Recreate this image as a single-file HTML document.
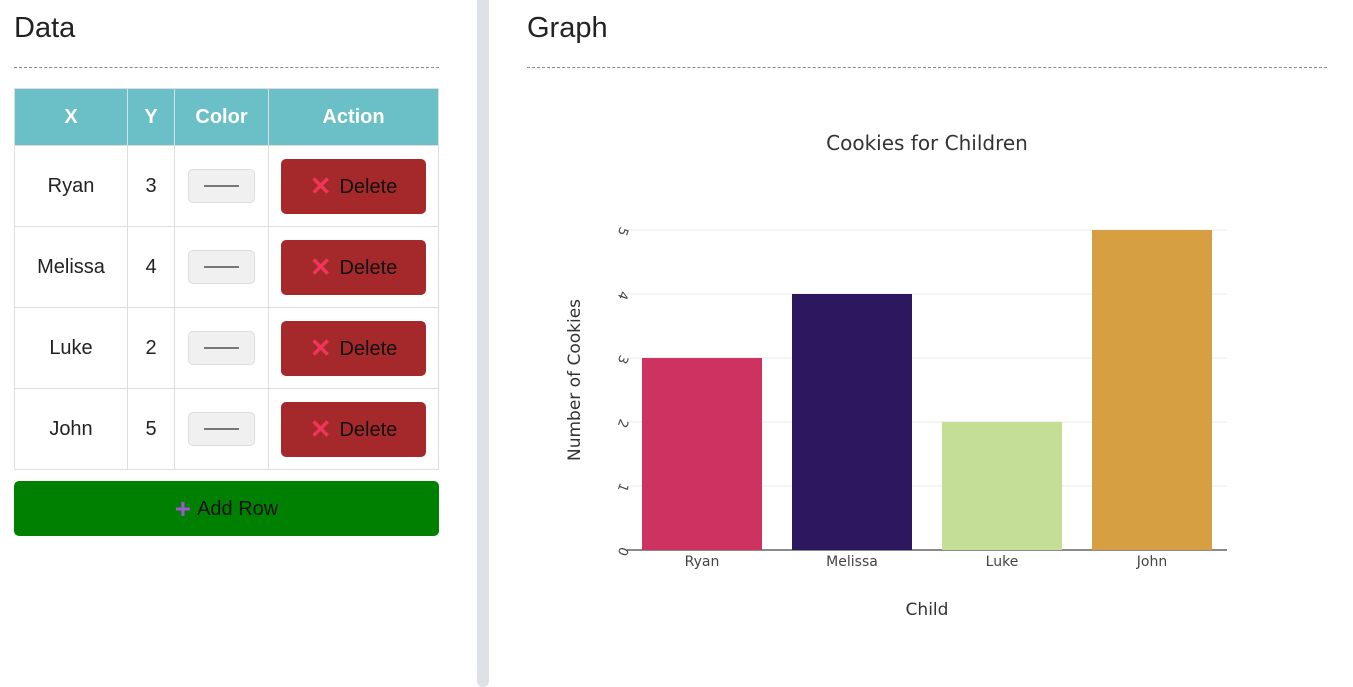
<!DOCTYPE html>
<html><head><meta charset="utf-8"><style>
body{margin:0;width:1353px;height:687px;background:#fff;font-family:"Liberation Sans",Arial,sans-serif;position:relative;overflow:hidden;color:#222}
.abs{position:absolute}
h2{position:absolute;margin:0;font-weight:400;font-size:29px;color:#222}
.hr{position:absolute;border-top:1px dashed #888;height:0}
table{position:absolute;left:14px;top:88px;border-collapse:collapse;width:425px}
th{background:#6bbfc7;color:#fff;font-size:20px;height:56px;border:1px solid #ddd;padding:0}
td{border:1px solid #ddd;height:80px;text-align:center;font-size:20px;padding:0}
.sw{display:inline-block;width:65px;height:32px;background:#f0f0f0;border:1px solid #ddd;border-radius:5px;position:relative;vertical-align:middle}
.sw:after{content:"";position:absolute;left:15px;right:15px;top:15px;border-top:2px solid #777}
.del{display:inline-block;width:145px;height:55px;background:#a5292b;border-radius:5px;line-height:55px;font-size:20px;color:#111}
.del b{color:#f0355a;font-size:26px;font-weight:700;vertical-align:-2px;margin-right:8px}
</style></head><body>
<h2 style="left:14px;top:12px">Data</h2>
<div class="hr" style="left:14px;top:67px;width:425px"></div>
<table>
<tr><th style="width:112px">X</th><th style="width:46px">Y</th><th style="width:93px">Color</th><th>Action</th></tr>
<tr><td>Ryan</td><td>3</td><td><span class="sw"></span></td><td><span class="del"><b>✕</b>Delete</span></td></tr>
<tr><td>Melissa</td><td>4</td><td><span class="sw"></span></td><td><span class="del"><b>✕</b>Delete</span></td></tr>
<tr><td>Luke</td><td>2</td><td><span class="sw"></span></td><td><span class="del"><b>✕</b>Delete</span></td></tr>
<tr><td>John</td><td>5</td><td><span class="sw"></span></td><td><span class="del"><b>✕</b>Delete</span></td></tr>
</table>
<div class="abs" style="left:14px;top:481px;width:425px;height:55px;background:#008000;border-radius:5px;text-align:center;line-height:55px;font-size:20px;color:#111"><b style="color:#9b59d0;font-size:28px;vertical-align:-3px;margin-right:6px">+</b>Add Row</div>
<div class="abs" style="left:477px;top:0;width:12px;height:687px;background:#dee2e6;border-radius:0 0 6px 6px"></div>
<h2 style="left:527px;top:12px">Graph</h2>
<div class="hr" style="left:527px;top:67px;width:800px"></div>
<svg class="abs" style="left:0;top:0" width="1353" height="687" font-family="DejaVu Sans, sans-serif">
<text x="927" y="150" text-anchor="middle" font-size="20" fill="#333">Cookies for Children</text>
<text x="927" y="615" text-anchor="middle" font-size="17" fill="#333">Child</text>
<text transform="translate(580,380) rotate(-90)" text-anchor="middle" font-size="17" fill="#333">Number of Cookies</text>
<g id="g"></g>
</svg>
<script>
const categories=["Ryan","Melissa","Luke","John"];
const values=[3,4,2,5];
const colors=["#cd3260","#2d175f","#c4de95","#d6a042"];
const yTicks=[0,1,2,3,4,5];
const X0=627,X1=1227,Y0=550,Y1=230,yMax=5;
const band=(X1-X0)/categories.length;
const xs=i=>X0+band*i+band*0.1;
const ys=v=>Y0-(Y0-Y1)*v/yMax;
const g=document.getElementById('g');const NS="http://www.w3.org/2000/svg";
function mk(t,a){const e=document.createElementNS(NS,t);for(const k in a)e.setAttribute(k,a[k]);g.appendChild(e);return e;}
yTicks.forEach(t=>{
 const l=mk('line',{x1:X0,x2:X1,y1:ys(t),y2:ys(t),stroke:t===0?'#444':'#e8e8e8','stroke-width':t===0?1.2:1});
 
 
 const tx=mk('text',{transform:`translate(${X0-8},${ys(t)}) rotate(110)`,'text-anchor':'middle','font-size':13,fill:'#444'});
 tx.textContent=t;
 
 
});
categories.forEach((c,i)=>{
 const r=mk('rect',{x:xs(i),y:ys(values[i]),width:band*0.8,height:Y0-ys(values[i]),fill:colors[i]});
 
 
 const t=mk('text',{x:X0+band*(i+0.5),y:Y0+16,'text-anchor':'middle','font-size':14,fill:'#444'});
 t.textContent=c;
 
 
});
</script>
</body></html>
